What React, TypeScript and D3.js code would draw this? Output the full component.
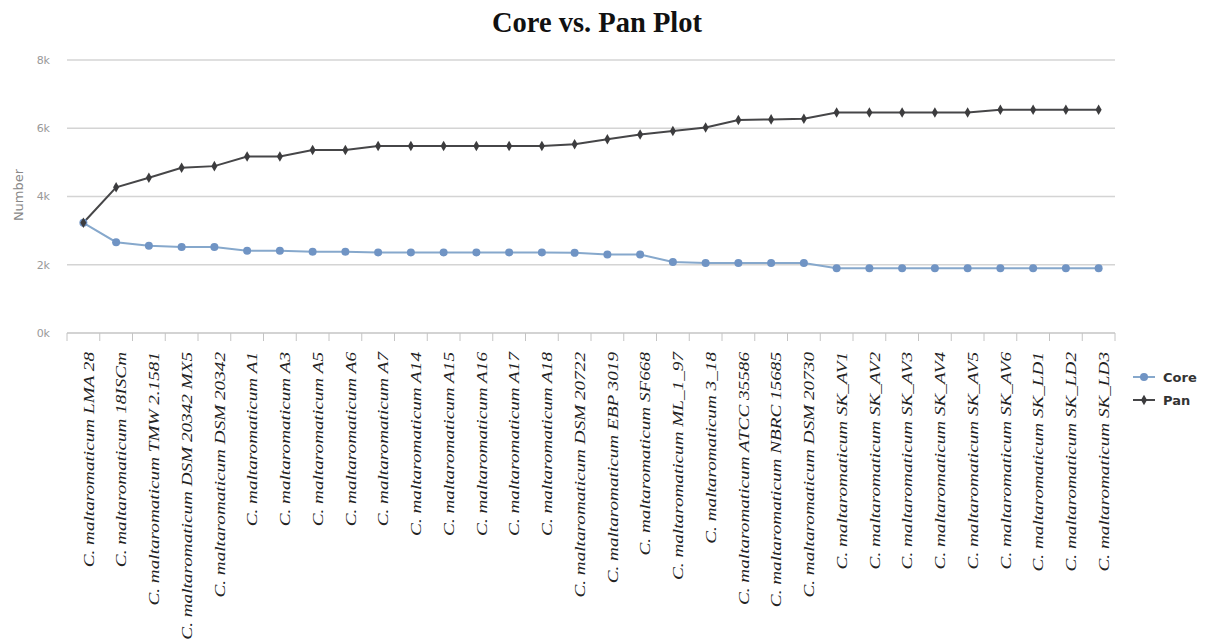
import React, { useEffect, useRef } from 'react';
import * as d3 from 'd3';

// strain names (prefixed with species on the axis)
const strains = [
  'LMA 28', '18ISCm', 'TMW 2.1581', 'DSM 20342 MX5', 'DSM 20342', 'A1', 'A3', 'A5', 'A6', 'A7',
  'A14', 'A15', 'A16', 'A17', 'A18', 'DSM 20722', 'EBP 3019', 'SF668', 'ML_1_97', '3_18',
  'ATCC 35586', 'NBRC 15685', 'DSM 20730', 'SK_AV1', 'SK_AV2', 'SK_AV3', 'SK_AV4', 'SK_AV5',
  'SK_AV6', 'SK_LD1', 'SK_LD2', 'SK_LD3',
];

const core = [
  3230, 2660, 2560, 2520, 2520, 2410, 2410, 2380, 2380, 2360,
  2360, 2360, 2360, 2360, 2360, 2350, 2300, 2300, 2080, 2050,
  2050, 2050, 2050, 1900, 1900, 1900, 1900, 1900, 1900, 1900,
  1900, 1900,
];

const pan = [
  3230, 4270, 4550, 4840, 4890, 5170, 5170, 5360, 5360, 5480,
  5480, 5480, 5480, 5480, 5480, 5530, 5680, 5820, 5920, 6020,
  6240, 6260, 6280, 6460, 6460, 6460, 6460, 6460, 6540, 6540,
  6540, 6540,
];

const yTicks = [0, 2000, 4000, 6000, 8000];

const App = () => {
  const ref = useRef<SVGSVGElement>(null);

  useEffect(() => {
    document.body.style.margin = '0';
    const svg = d3.select(ref.current);
    svg.selectAll('*').remove();

    const left = 67, right = 1115, top = 60, bottom = 333;
    const x = d3.scaleBand().domain(strains).range([left, right]);
    const y = d3.scaleLinear().domain([0, 8000]).range([bottom, top]);
    const cx = (s: string) => (x(s) as number) + x.bandwidth() / 2;

    // title
    svg.append('text')
      .attr('x', 597).attr('y', 32)
      .attr('text-anchor', 'middle')
      .attr('font-family', 'Liberation Serif, Times New Roman, serif')
      .attr('font-weight', 'bold')
      .attr('font-size', 28.5)
      .attr('fill', '#111')
      .text('Core vs. Pan Plot');

    // grid + y labels
    const grid = svg.append('g');
    grid.selectAll('line')
      .data(yTicks.filter(d => d > 0))
      .join('line')
        .attr('x1', left).attr('x2', right)
        .attr('y1', d => y(d)).attr('y2', d => y(d))
        .attr('stroke', '#d4d4d4').attr('stroke-width', 1.5);

    grid.selectAll('text')
      .data(yTicks)
      .join('text')
        .attr('x', 50).attr('y', d => y(d))
        .attr('dy', '0.35em')
        .attr('text-anchor', 'end')
        .attr('font-family', 'DejaVu Sans, sans-serif')
        .attr('font-size', 11)
        .attr('fill', '#999')
        .text(d => `${d / 1000}k`);

    svg.append('text')
      .attr('transform', 'translate(18,195) rotate(-90)')
      .attr('text-anchor', 'middle')
      .attr('dy', '0.35em')
      .attr('font-family', 'DejaVu Sans, sans-serif')
      .attr('font-size', 13)
      .attr('fill', '#888')
      .text('Number');

    // x axis line + ticks at band edges
    const axis = svg.append('g');
    axis.append('line')
      .attr('x1', left).attr('x2', right)
      .attr('y1', bottom).attr('y2', bottom)
      .attr('stroke', '#c4c4c4').attr('stroke-width', 1.5);
    axis.selectAll('line.tick')
      .data([...strains.map(s => x(s) as number), right])
      .join('line')
        .attr('class', 'tick')
        .attr('x1', d => d).attr('x2', d => d)
        .attr('y1', bottom).attr('y2', bottom + 8)
        .attr('stroke', '#c4c4c4');

    // labels are stretched along their length, as in the source image
    axis.selectAll('text')
      .data(strains)
      .join('text')
        .attr('transform', d => `translate(${cx(d) + 5},352) rotate(-90) scale(1.28,1)`)
        .attr('dy', '0.35em')
        .attr('text-anchor', 'end')
        .attr('font-family', 'Liberation Serif, Times New Roman, serif')
        .attr('font-style', 'italic')
        .attr('font-size', 15)
        .attr('fill', '#222')
        .text(d => `C. maltaromaticum ${d}`);

    // series
    const line = d3.line<number>()
      .x((_, i) => cx(strains[i]))
      .y(d => y(d));

    svg.append('path')
      .datum(core)
      .attr('d', line)
      .attr('fill', 'none')
      .attr('stroke', '#86a8cc')
      .attr('stroke-width', 2);

    svg.append('path')
      .datum(pan)
      .attr('d', line)
      .attr('fill', 'none')
      .attr('stroke', '#464648')
      .attr('stroke-width', 2);

    svg.append('g')
      .selectAll('circle')
      .data(core)
      .join('circle')
        .attr('cx', (_, i) => cx(strains[i]))
        .attr('cy', d => y(d))
        .attr('r', 4)
        .attr('fill', '#7094c4');

    const diamond = d3.symbol(d3.symbolDiamond, 32);
    svg.append('g')
      .selectAll('path')
      .data(pan)
      .join('path')
        .attr('transform', (d, i) => `translate(${cx(strains[i])},${y(d)})`)
        .attr('d', diamond)
        .attr('fill', '#3c3c3e');

    // legend
    const legend = svg.append('g').attr('font-family', 'DejaVu Sans, sans-serif');
    const items = [
      { name: 'Core', color: '#86a8cc', mark: '#7094c4', sym: 'circle' },
      { name: 'Pan', color: '#464648', mark: '#3c3c3e', sym: 'diamond' },
    ];
    items.forEach((it, i) => {
      const ly = 377 + i * 23;
      legend.append('line')
        .attr('x1', 1133).attr('x2', 1155)
        .attr('y1', ly).attr('y2', ly)
        .attr('stroke', it.color).attr('stroke-width', 2);
      if (it.sym === 'circle') {
        legend.append('circle').attr('cx', 1144).attr('cy', ly).attr('r', 4).attr('fill', it.mark);
      } else {
        legend.append('path')
          .attr('transform', `translate(1144,${ly})`)
          .attr('d', diamond)
          .attr('fill', it.mark);
      }
      legend.append('text')
        .attr('x', 1163).attr('y', ly)
        .attr('dy', '0.35em')
        .attr('font-size', 13)
        .attr('font-weight', 'bold')
        .attr('fill', '#333')
        .text(it.name);
    });
  }, []);

  return <svg ref={ref} width={1210} height={640} style={{ display: 'block', background: '#fff' }} />;
};

export default App;
